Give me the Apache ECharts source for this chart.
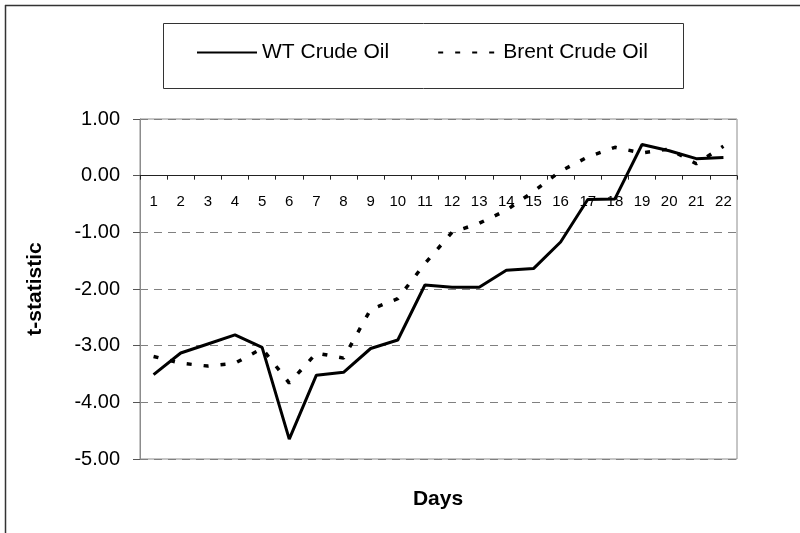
<!DOCTYPE html>
<html>
<head>
<meta charset="utf-8">
<script src="https://cdn.jsdelivr.net/npm/echarts@6/dist/echarts.min.js"></script>
<style>html,body{margin:0;padding:0;background:#fff;}#c{width:800px;height:533px;}</style>
</head>
<body>
<div id="c"></div>
<script>
const days = ['1','2','3','4','5','6','7','8','9','10','11','12','13','14','15','16','17','18','19','20','21','22'];
const wtCrude = [-3.51,-3.13,-2.97,-2.81,-3.03,-4.65,-3.52,-3.47,-3.05,-2.90,-1.93,-1.97,-1.97,-1.67,-1.64,-1.17,-0.42,-0.41,0.55,0.44,0.30,0.32];
const brentCrude = [-3.19,-3.31,-3.36,-3.31,-3.05,-3.66,-3.13,-3.22,-2.36,-2.17,-1.55,-1.00,-0.84,-0.61,-0.28,0.08,0.33,0.50,0.40,0.47,0.21,0.52];
const yTicks = {min: -5, max: 1, interval: 1};

const FONT = '"Liberation Sans", Arial, sans-serif';
const gridTop = 119, gridHeight = 340;
// distance of zero line from bottom of grid, derived from axis range
const zeroOffset = gridHeight * (0 - yTicks.min) / (yTicks.max - yTicks.min);
const chart = echarts.init(document.getElementById('c'), null, {renderer: 'canvas'});
chart.setOption({
  animation: false,
  backgroundColor: '#fff',
  grid: {left: 140, top: gridTop, width: 597, height: gridHeight, show: true, borderColor: '#8c8c8c', borderWidth: 1, backgroundColor: 'transparent'},
  legend: {
    left: 191, top: 37, itemWidth: 60, itemHeight: 14, itemGap: 48,
    itemStyle: {opacity: 0},
    textStyle: {fontFamily: FONT, fontSize: 21, color: '#000'},
    data: ['WT Crude Oil', 'Brent Crude Oil']
  },
  xAxis: {
    type: 'category', data: days, boundaryGap: true, position: 'bottom', offset: -zeroOffset,
    axisLine: {onZero: false, lineStyle: {color: '#222', width: 1}},
    axisTick: {show: true, length: 4, lineStyle: {color: '#222'}},
    axisLabel: {fontFamily: FONT, fontSize: 15, color: '#000', margin: 19, interval: 0},
    splitLine: {show: false}
  },
  yAxis: {
    type: 'value', min: yTicks.min, max: yTicks.max, interval: yTicks.interval,
    axisLine: {show: true, lineStyle: {color: '#8c8c8c', width: 1}},
    axisTick: {show: true, length: 7, lineStyle: {color: '#555'}},
    axisLabel: {fontFamily: FONT, fontSize: 20, color: '#000', margin: 20, formatter: v => v.toFixed(2)},
    splitLine: {show: true, lineStyle: {color: '#808080', width: 1, type: [8, 6]}},
    name: 't-statistic', nameLocation: 'middle', nameGap: 94, nameRotate: 90,
    nameTextStyle: {fontFamily: FONT, fontSize: 21, fontWeight: 'bold', color: '#000'}
  },
  series: [
    {name: 'WT Crude Oil', type: 'line', data: wtCrude, symbol: 'none',
     lineStyle: {color: '#000', width: 3, type: 'solid'}, itemStyle: {color: '#000'}},
    {name: 'Brent Crude Oil', type: 'line', data: brentCrude, symbol: 'none',
     lineStyle: {color: '#000', width: 3.5, type: [5, 12]}, itemStyle: {color: '#000'}}
  ],
  graphic: [
    {type: 'line', shape: {x1: 5, y1: 5.5, x2: 800, y2: 5.5}, style: {stroke: '#333', lineWidth: 1.5}},
    {type: 'line', shape: {x1: 5.5, y1: 5, x2: 5.5, y2: 533}, style: {stroke: '#333', lineWidth: 1.5}},
    {type: 'rect', shape: {x: 163.5, y: 23.5, width: 520, height: 65}, style: {fill: 'none', stroke: '#333', lineWidth: 1}, z: 0},
    {type: 'text', style: {text: 'Days', font: 'bold 21px "Liberation Sans", Arial, sans-serif', fill: '#000', align: 'center', verticalAlign: 'middle', x: 438, y: 499}}
  ]
});
</script>
</body>
</html>
